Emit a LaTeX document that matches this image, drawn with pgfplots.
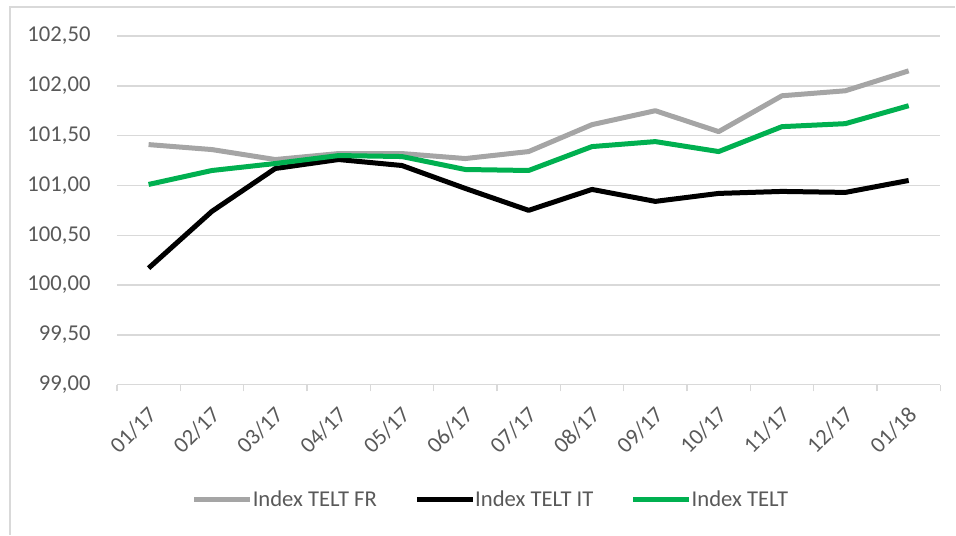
\documentclass[border=0pt]{standalone}
\usepackage{pgfplots}
\pgfplotsset{compat=1.18}
\usepackage{fontspec}
\setmainfont{Carlito}
\definecolor{txt}{HTML}{595959}
\definecolor{grd}{HTML}{D9D9D9}
\definecolor{cfr}{HTML}{A5A5A5}
\definecolor{cit}{HTML}{000000}
\definecolor{ctelt}{HTML}{00B050}
\begin{document}
\begin{tikzpicture}[x=1pt,y=1pt]
\path (0,0) rectangle (717,401.25);
\draw[grd, line width=1pt] (7.5,0) -- (7.5,396) -- (717,396);
\begin{axis}[
  at={(87.75pt,112.5pt)}, anchor=south west,
  scale only axis, width=618pt, height=261.75pt,
  xmin=-0.5, xmax=12.5, ymin=99, ymax=102.5,
  ytick={99,99.5,...,102.5},
  xtick={0,...,12},
  xticklabels={01/17,02/17,03/17,04/17,05/17,06/17,07/17,08/17,09/17,10/17,11/17,12/17,01/18},
  minor xtick={-0.5,0.5,...,12.5},
  axis lines*=left,
  y axis line style={draw=none},
  x axis line style={grd, line width=1.1pt},
  ymajorgrids, grid style={grd, line width=1.1pt},
  major x tick style={draw=none},
  major y tick style={draw=none},
  minor x tick style={grd, line width=1.1pt},
  minor tick length=5pt,
  tick align=outside,
  ticklabel style={font=\fontsize{17}{20}\selectfont, text=txt},
  yticklabel style={xshift=-12pt},
  xticklabel style={xshift=5.5pt, yshift=-13pt, rotate=45, anchor=east},
  /pgf/number format/.cd, fixed, fixed zerofill, precision=2, use comma, 1000 sep={}, assume math mode=true,
  /pgfplots/.cd,
  clip=false,
  legend columns=3,
  legend style={at={(0.453,-0.33)}, anchor=center, draw=none, fill=none,
    font=\fontsize{17}{20}\selectfont, text=txt,
    nodes={inner xsep=0pt},
    /tikz/every even column/.append style={column sep=28pt}},
  legend image code/.code={\draw[#1, line width=3.75pt] (0pt,0pt) -- (42pt,0pt);},
  legend cell align=left,
]
\addplot[cfr, line width=3.75pt, line join=round] coordinates {
(0,101.41) (1,101.36) (2,101.26) (3,101.32) (4,101.32) (5,101.27) (6,101.34) (7,101.61) (8,101.75) (9,101.54) (10,101.90) (11,101.95) (12,102.15)};
\addlegendentry{Index TELT FR}
\addplot[cit, line width=3.75pt, line join=round] coordinates {
(0,100.17) (1,100.74) (2,101.17) (3,101.26) (4,101.20) (5,100.97) (6,100.75) (7,100.96) (8,100.84) (9,100.92) (10,100.94) (11,100.93) (12,101.05)};
\addlegendentry{Index TELT IT}
\addplot[ctelt, line width=3.75pt, line join=round] coordinates {
(0,101.01) (1,101.15) (2,101.22) (3,101.30) (4,101.29) (5,101.16) (6,101.15) (7,101.39) (8,101.44) (9,101.34) (10,101.59) (11,101.62) (12,101.80)};
\addlegendentry{Index TELT}
\end{axis}
\end{tikzpicture}
\end{document}
